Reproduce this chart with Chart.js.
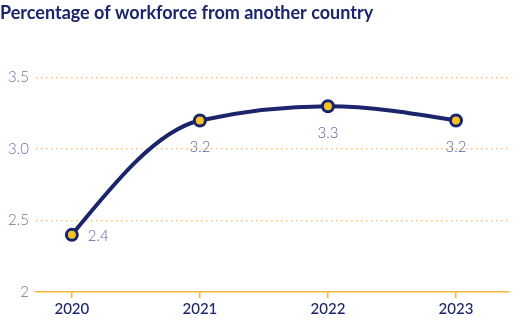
<!DOCTYPE html>
<html>
<head>
<meta charset="utf-8">
<script src="https://cdn.jsdelivr.net/npm/chart.js@4"></script>
<style>
  html, body { margin: 0; padding: 0; background: #fff; }
  #wrap { width: 526px; height: 325px; }
</style>
</head>
<body>
<div id="wrap"><canvas id="myChart"></canvas></div>
<script>
const years = [2020, 2021, 2022, 2023];
const values = [2.4, 3.2, 3.3, 3.2];
const yTicks = [2, 2.5, 3.0, 3.5];
const title = 'Percentage of workforce from another country';

const navy = '#1a256c';
const yellow = '#f7b733';

// monotone-x curve (d3 style) applied to the line's control points
const monotoneX = {
  id: 'monotoneX',
  beforeDatasetsDraw(chart) {
    const line = chart.getDatasetMeta(0).dataset;
    const pts = chart.getDatasetMeta(0).data;
    line.updateControlPoints(chart.chartArea, 'x');
    const n = pts.length;
    const sign = v => v < 0 ? -1 : 1;
    const t = new Array(n).fill(0);
    for (let i = 1; i < n - 1; i++) {
      const h0 = pts[i].x - pts[i - 1].x, h1 = pts[i + 1].x - pts[i].x;
      const s0 = (pts[i].y - pts[i - 1].y) / h0, s1 = (pts[i + 1].y - pts[i].y) / h1;
      const p = (s0 * h1 + s1 * h0) / (h0 + h1);
      t[i] = (sign(s0) + sign(s1)) * Math.min(Math.abs(s0), Math.abs(s1), 0.5 * Math.abs(p)) || 0;
    }
    const h0 = pts[1].x - pts[0].x;
    t[0] = (3 * (pts[1].y - pts[0].y) / h0 - t[1]) / 2;
    const hn = pts[n - 1].x - pts[n - 2].x;
    t[n - 1] = (3 * (pts[n - 1].y - pts[n - 2].y) / hn - t[n - 2]) / 2;
    for (let i = 0; i < n; i++) {
      const p = pts[i];
      if (i > 0) {
        const dx = (p.x - pts[i - 1].x) / 3;
        p.cp1x = p.x - dx; p.cp1y = p.y - dx * t[i];
      }
      if (i < n - 1) {
        const dx = (pts[i + 1].x - p.x) / 3;
        p.cp2x = p.x + dx; p.cp2y = p.y + dx * t[i];
      }
    }
  }
};

// value labels next to each point
const pointLabels = {
  id: 'pointLabels',
  afterDatasetsDraw(chart) {
    const ctx = chart.ctx;
    const meta = chart.getDatasetMeta(0);
    ctx.save();
    ctx.font = '300 15px Lato';
    ctx.fillStyle = '#5b6199';
    ctx.textBaseline = 'middle';
    meta.data.forEach((pt, i) => {
      const txt = values[i].toFixed(1);
      if (i === 0) {
        ctx.textAlign = 'left';
        ctx.fillText(txt, pt.x + 16, pt.y + 1);
      } else {
        ctx.textAlign = 'center';
        ctx.fillText(txt, pt.x, pt.y + 27);
      }
    });
    ctx.restore();
  }
};

const ctx = document.getElementById('myChart');
new Chart(ctx, {
  type: 'line',
  data: {
    datasets: [{
      data: years.map((y, i) => ({ x: y, y: values[i] })),
      borderColor: navy,
      borderWidth: 4,
      tension: 0.4,
      capBezierPoints: false,
      pointRadius: 5.5,
      pointBorderWidth: 3,
      pointBackgroundColor: '#f6c327',
      pointBorderColor: navy,
    }]
  },
  options: {
    responsive: true,
    maintainAspectRatio: false,
    animation: false,
    layout: { padding: { left: 0, right: 17, top: 0, bottom: 0 } },
    plugins: {
      legend: { display: false },
      tooltip: { enabled: false },
      title: {
        display: true,
        text: title,
        align: 'start',
        color: navy,
        font: { family: 'Lato', size: 18, weight: 'bold' },
        padding: { top: 2, bottom: 54 }
      }
    },
    scales: {
      x: {
        type: 'linear',
        min: 2019.72,
        max: 2023.414,
        afterBuildTicks: axis => { axis.ticks = years.map(v => ({ value: v })); },
        ticks: {
          callback: v => String(v),
          color: navy,
          font: { family: 'Lato', size: 15, weight: '500' },
          padding: 2
        },
        grid: { drawOnChartArea: false, drawTicks: true, tickLength: 6, color: yellow, lineWidth: 1.5 },
        border: { display: true, color: yellow, width: 1.5 },
        afterFit: axis => { axis.height = 33; }
      },
      y: {
        min: 2,
        max: 3.5,
        afterBuildTicks: axis => { axis.ticks = yTicks.map(v => ({ value: v })); },
        ticks: {
          callback: v => v === 2 ? '2' : v.toFixed(1),
          color: '#6a6f9e',
          font: { family: 'Lato', size: 15, weight: '300' },
          padding: 7
        },
        grid: {
          drawTicks: false,
          color: c => c.tick && c.tick.value === 2 ? 'rgba(0,0,0,0)' : '#f9c466',
          lineWidth: 1.5,
          borderDash: [1.5, 3.5]
        },
        border: { display: false, dash: [1.5, 3.5] },
        afterFit: axis => { axis.width = 36; }
      }
    }
  },
  plugins: [monotoneX, pointLabels]
});
</script>
</body>
</html>
